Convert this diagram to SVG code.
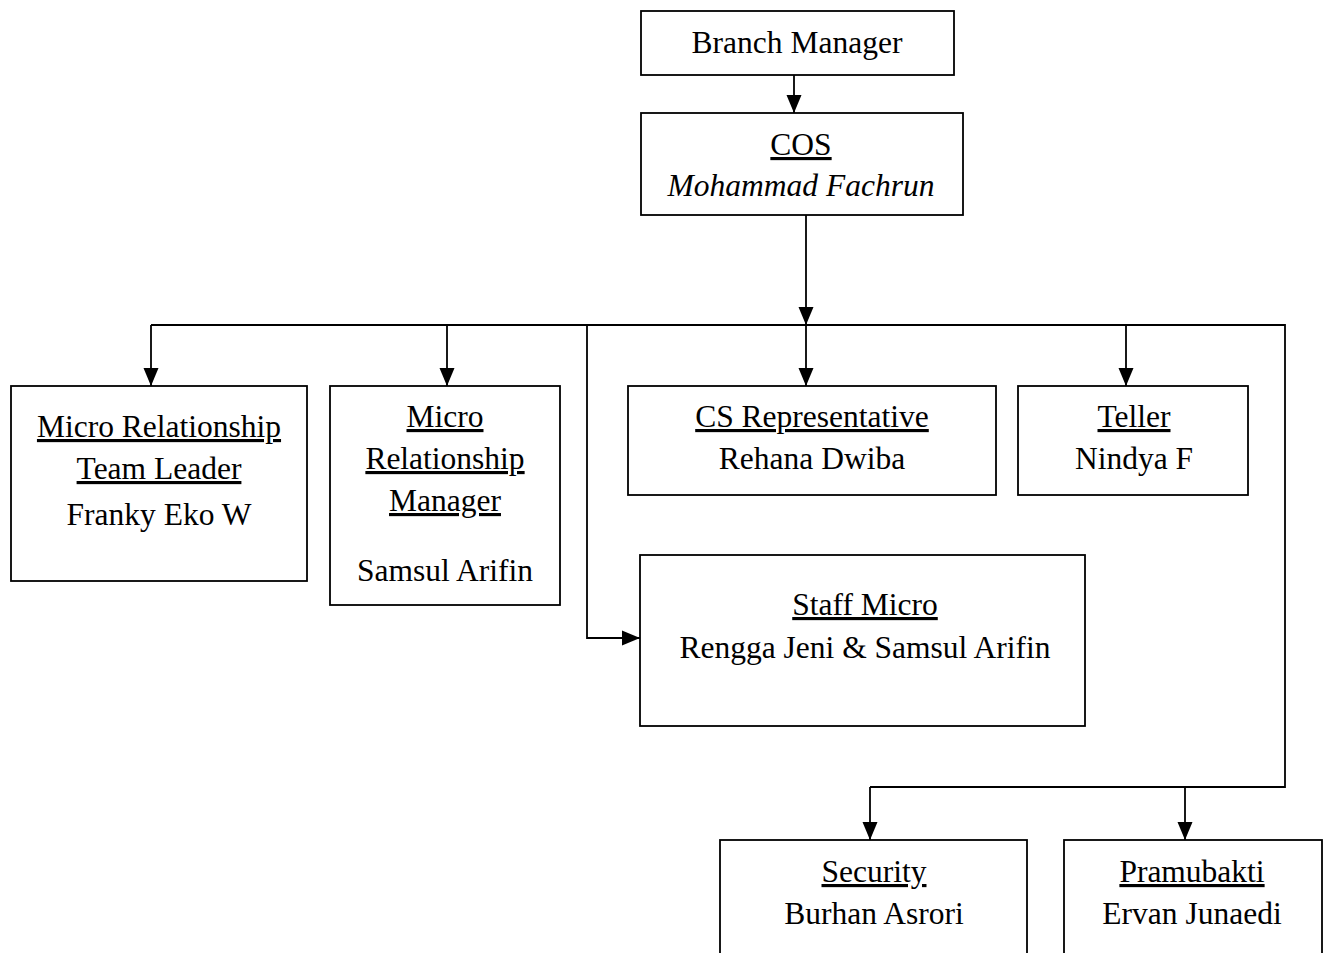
<svg xmlns="http://www.w3.org/2000/svg" width="1328" height="953" viewBox="0 0 1328 953">
<style>
.box{fill:#fff;stroke:#000;stroke-width:1.8}
text{font-family:"Liberation Serif","Times New Roman",serif;font-size:31.5px;fill:#000;text-anchor:middle}
.u{text-decoration:underline}
.i{font-style:italic}
.c{fill:none;stroke:#000;stroke-width:1.8}
</style>
<defs>
<marker id="ah" markerWidth="18" markerHeight="16" refX="18" refY="8" orient="auto" markerUnits="userSpaceOnUse">
<path d="M0,0.5 L18,8 L0,15.5 Z" fill="#000"/>
</marker>
</defs>
<rect width="1328" height="953" fill="#fff"/>
<g id="connectors">
<path class="c" d="M794,75 V113" marker-end="url(#ah)"/>
<path class="c" d="M806,215 V325" marker-end="url(#ah)"/>
<path class="c" d="M151,325 H1285 V787 H870"/>
<path class="c" d="M151,325 V386" marker-end="url(#ah)"/>
<path class="c" d="M447,325 V386" marker-end="url(#ah)"/>
<path class="c" d="M806,325 V386" marker-end="url(#ah)"/>
<path class="c" d="M1126,325 V386" marker-end="url(#ah)"/>
<path class="c" d="M587,325 V638 H640" marker-end="url(#ah)"/>
<path class="c" d="M870,787 V840" marker-end="url(#ah)"/>
<path class="c" d="M1185,787 V840" marker-end="url(#ah)"/>
</g>
<g id="branch-manager">
<rect class="box" x="641" y="11" width="313" height="64"/>
<text x="797" y="53">Branch Manager</text>
</g>
<g id="cos">
<rect class="box" x="641" y="113" width="322" height="102"/>
<text class="u" x="801" y="155">COS</text>
<text class="i" x="801" y="196">Mohammad Fachrun</text>
</g>
<g id="mrtl">
<rect class="box" x="11" y="386" width="296" height="195"/>
<text class="u" x="159" y="437">Micro Relationship</text>
<text class="u" x="159" y="479">Team Leader</text>
<text x="159" y="525">Franky Eko W</text>
</g>
<g id="mrm">
<rect class="box" x="330" y="386" width="230" height="219"/>
<text class="u" x="445" y="427">Micro</text>
<text class="u" x="445" y="469">Relationship</text>
<text class="u" x="445" y="511">Manager</text>
<text x="445" y="581">Samsul Arifin</text>
</g>
<g id="cs-rep">
<rect class="box" x="628" y="386" width="368" height="109"/>
<text class="u" x="812" y="427">CS Representative</text>
<text x="812" y="469">Rehana Dwiba</text>
</g>
<g id="teller">
<rect class="box" x="1018" y="386" width="230" height="109"/>
<text class="u" x="1134" y="427">Teller</text>
<text x="1134" y="469">Nindya F</text>
</g>
<g id="staff-micro">
<rect class="box" x="640" y="555" width="445" height="171"/>
<text class="u" x="865" y="615">Staff Micro</text>
<text x="865" y="658">Rengga Jeni &amp; Samsul Arifin</text>
</g>
<g id="security">
<rect class="box" x="720" y="840" width="307" height="130"/>
<text class="u" x="874" y="882">Security</text>
<text x="874" y="924">Burhan Asrori</text>
</g>
<g id="pramubakti">
<rect class="box" x="1064" y="840" width="258" height="130"/>
<text class="u" x="1192" y="882">Pramubakti</text>
<text x="1192" y="924">Ervan Junaedi</text>
</g>
</svg>
